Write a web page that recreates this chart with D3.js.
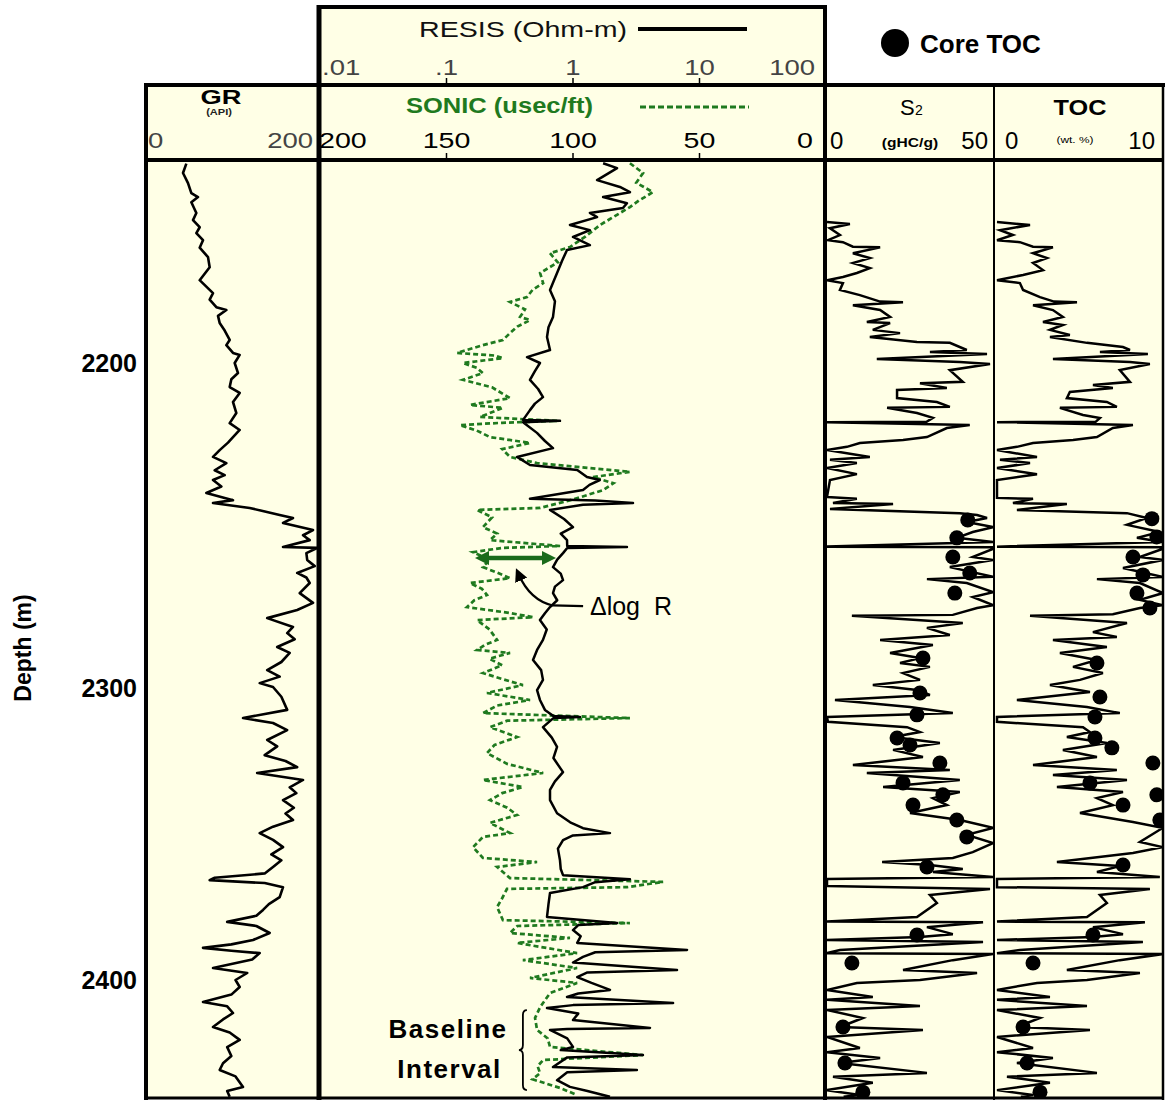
<!DOCTYPE html>
<html><head><meta charset="utf-8">
<script src="https://cdn.jsdelivr.net/npm/d3@7"></script>
<style>body{margin:0;background:#fff}svg{display:block}</style>
</head><body>
<svg id="c" width="1165" height="1101"></svg>
<script>
// ---------------- DATA ----------------
const depthTicks = [2200, 2300, 2400];
const resisTicks = [0.01, 0.1, 1, 10, 100];
const resisTickLabels = [".01", ".1", "1", "10", "100"];
const sonicTicks = [200, 150, 100, 50, 0];
const grTicks = [0, 200];
const s2Ticks = [0, 50];
const tocTicks = [0, 10];

// GR (API) : [depth m, value]
const grLog = [[2138.6,46],[2141.5,42],[2144.6,48],[2147.7,52],[2148.9,60],[2150.5,52],[2153.8,58],[2156,54],[2158.2,62],[2160,58],[2162.2,66],[2164.5,62],[2167.4,72],[2170.5,74],[2172.5,68],[2174.5,62],[2176.5,70],[2178.5,78],[2180.5,74],[2182.8,82],[2183.7,94],[2185.5,84],[2187.7,86],[2190,92],[2192.9,98],[2194.5,94],[2196.9,102],[2197.5,110],[2200,104],[2203.1,108],[2205,100],[2207.4,98],[2209.2,110],[2212,102],[2215.4,106],[2218.5,98],[2220.6,110],[2222.8,102],[2224.5,96],[2226.8,86],[2228.9,78],[2230.8,94],[2233,80],[2234.5,92],[2236,78],[2238,88],[2240,70],[2242.2,102],[2243.1,78],[2244.6,122],[2246.8,158],[2247.7,174],[2249.2,162],[2251.4,198],[2253,186],[2254.5,194],[2256.6,162],[2256.9,203],[2258.5,190],[2260.6,191],[2262.5,200],[2264.6,179],[2266,190],[2267.7,194],[2270.8,182],[2273.8,198],[2276,179],[2278.5,143],[2281.2,174],[2283.1,167],[2285,176],[2287.4,155],[2289.2,170],[2292,160],[2294.5,143],[2296.5,158],[2298.5,134],[2299.7,150],[2303,160],[2307.5,167],[2310.3,114],[2312,150],[2314.4,167],[2317.8,143],[2320,155],[2323,140],[2325,165],[2327.1,179],[2329.1,131],[2331.5,186],[2334,170],[2336,178],[2338.4,162],[2341,175],[2343,165],[2345.2,174],[2347.5,150],[2349.7,134],[2352,150],[2354.5,162],[2357,148],[2359,160],[2361.3,150],[2363.5,140],[2365,80],[2365.8,74],[2366.8,140],[2368.2,162],[2371.6,158],[2374,145],[2376,138],[2378,130],[2380.1,95],[2381.5,130],[2383.9,146],[2386.3,126],[2387.8,100],[2389,66],[2390,100],[2390.8,134],[2393,125],[2395.9,78],[2397.6,119],[2400,105],[2402.4,110],[2405,100],[2407.5,66],[2409,95],[2411.3,102],[2413.5,90],[2416.1,78],[2418,98],[2420.5,110],[2423,95],[2426,100],[2428.5,90],[2430.8,86],[2433,105],[2436.6,114],[2438,95],[2440,98]];

// Resistivity (Ohm-m) : [depth, value]
const resisLog = [[2138.5,1.73],[2140,2.23],[2143.7,1.55],[2145.8,2.35],[2147.4,2.82],[2148.9,1.73],[2150.8,2.67],[2152.3,2.48],[2153.8,1.36],[2155.1,1.55],[2157.5,0.946],[2159.1,1.36],[2161.2,1.0],[2163.7,1.36],[2165.2,0.897],[2168.5,0.82],[2172.3,0.748],[2175,0.70],[2177.5,0.658],[2181,0.72],[2185.8,0.695],[2189,0.64],[2192,0.623],[2196,0.658],[2198.2,0.433],[2200,0.548],[2202.5,0.50],[2205.2,0.457],[2208,0.53],[2210.5,0.579],[2212.5,0.50],[2214.5,0.457],[2217.5,0.403],[2217.8,0.789],[2218.2,0.403],[2221.5,0.519],[2224,0.60],[2226.2,0.695],[2228.9,0.361],[2231.4,0.457],[2232.9,1.08],[2235.1,1.29],[2236,1.63],[2237.5,1.35],[2239.1,1.20],[2241.8,0.457],[2242.3,1.5],[2243.1,2.98],[2243.6,1.2],[2245.2,0.658],[2248,0.85],[2250.5,1.0],[2252.5,0.8],[2254.5,0.897],[2256.3,0.9],[2256.6,2.67],[2256.9,0.9],[2258.5,0.834],[2260.5,0.75],[2262.8,0.695],[2264.8,0.80],[2266.8,0.834],[2268.8,0.72],[2270.8,0.695],[2273,0.75],[2275.1,0.658],[2277,0.60],[2279.1,0.548],[2282,0.62],[2285.2,0.579],[2288.3,0.52],[2291.4,0.483],[2294.5,0.56],[2297.5,0.579],[2300.7,0.52],[2304.1,0.548],[2307.5,0.60],[2309.6,0.70],[2309.9,1.135],[2310.3,0.70],[2313.4,0.579],[2317,0.68],[2320.2,0.748],[2324,0.70],[2328.8,0.834],[2332,0.72],[2334.9,0.658],[2338.4,0.658],[2342.9,0.748],[2346,0.95],[2348,1.20],[2349.7,1.96],[2350.5,1.0],[2352.1,0.834],[2355,0.76],[2359,0.789],[2362,0.80],[2364.1,0.834],[2365.5,2.82],[2366.5,1.5],[2368.2,1.20],[2370.2,0.658],[2374,0.64],[2378.4,0.623],[2380.5,2.23],[2381.2,1.1],[2382.9,1.0],[2385,1.15],[2387.3,1.08],[2389.7,7.97],[2390.5,1.5],[2392.1,1.20],[2394,1.0],[2396.6,6.64],[2397.4,1.3],[2399,1.08],[2401,1.4],[2403.4,1.96],[2404.6,1.1],[2405.8,0.897],[2407.9,6.18],[2408.6,1.0],[2409.6,0.623],[2411.5,1.1],[2413.7,1.0],[2416.4,4.06],[2416.8,0.9],[2417.1,0.658],[2420,0.9],[2422.9,1.0],[2424,0.8],[2425.7,3.57],[2426.5,0.9],[2429.8,0.695],[2430.8,3.2],[2431.6,0.9],[2434.3,0.748],[2436.6,0.946],[2438,1.3],[2440,1.96]];

// Sonic (usec/ft) : [depth, value]
const sonicLog = [[2138.5,77.5],[2141.5,72.3],[2144.5,75],[2147.4,68.4],[2150,74],[2152,77.5],[2157.5,89.3],[2161,95],[2164.3,101.2],[2166.2,109.1],[2169,106],[2172.3,113],[2175.4,111.8],[2177.5,116],[2179.7,118.2],[2181.2,124.9],[2183.5,119],[2185.8,120.9],[2186.8,117],[2188.8,122],[2190.8,124.9],[2192.9,127.7],[2194.5,135.6],[2196.9,145.8],[2197.7,131],[2198.5,127.7],[2200,143.5],[2201.5,138],[2203.1,135.6],[2205.2,143.5],[2207.5,132],[2210.8,124.9],[2212.9,140.7],[2213.8,127.7],[2216.6,136.8],[2217.8,106.3],[2218.4,128],[2219.1,144.7],[2220.8,138],[2222.8,132.8],[2224.6,117],[2226.5,128],[2228.9,124.9],[2230.8,114.2],[2233.5,77.5],[2235.1,92.1],[2237,84],[2239.1,88.1],[2242,100],[2244.6,113],[2245.2,137.9],[2247.5,132],[2250.5,135.6],[2252.5,130],[2254.5,132.8],[2256.3,105.1],[2256.9,128],[2258.2,139.5],[2260.5,133],[2262.8,135.6],[2264.5,130],[2266.2,124.9],[2267.7,140.7],[2269.5,136],[2271.4,134],[2273,139],[2275.1,141.9],[2276.8,126],[2278.2,115.8],[2279.1,137.9],[2282,133],[2285.2,130],[2286.8,135],[2288.3,137.9],[2289.2,124.9],[2291,133],[2293,128],[2295.4,135.6],[2297,129],[2299.1,119.8],[2301.7,134],[2304.1,117],[2306,130],[2308.6,135.6],[2310.3,77.5],[2311.2,126],[2313.4,132.8],[2316.8,122.1],[2319.5,131],[2322.3,134],[2326,126],[2329.1,111.8],[2331.5,135.6],[2333.9,119.8],[2336,128],[2338.4,132.8],[2341,126],[2343.5,122.1],[2346.2,132.8],[2349.7,124.9],[2351,135.6],[2354.5,139.5],[2358.2,135.6],[2359.6,114.2],[2361.3,130],[2365.1,124.9],[2366.4,64.4],[2368.2,78.6],[2368.8,126.1],[2372,128],[2375,130],[2379.5,127.7],[2380.5,77.5],[2381.5,122],[2383.9,124.9],[2385.6,101.2],[2387.3,122.1],[2390.8,98.4],[2393.2,119.8],[2395.9,98.4],[2399.3,117],[2401,98.4],[2404.5,109.1],[2409.3,113],[2413,115],[2417.1,114.2],[2420,110],[2422.9,109.1],[2425.7,72.3],[2427.4,111.8],[2429.5,114],[2431.9,113],[2434,116],[2437,105],[2439.4,98.4]];

// S2 (gHC/g) : [depth, value]
const s2Log = [[2156.6,0],[2157.2,6.9],[2158.5,0.9],[2160.6,3.9],[2162.2,0.3],[2162.8,4.8],[2164.2,7.8],[2164.4,16],[2166.2,7.8],[2167.7,12.9],[2169.2,7.8],[2170.8,12.9],[2172.3,9],[2173.5,4.8],[2174.5,0],[2175.4,4.8],[2177.5,3.9],[2179.1,9.9],[2181.1,16],[2181.3,22.9],[2182.2,7.8],[2183.7,16],[2185.8,19],[2187.4,12],[2187.7,19],[2189.8,13.8],[2190.8,22],[2192,12.9],[2193.5,27.1],[2193.8,37],[2196,42.1],[2196.6,31],[2197.2,48.2],[2198.8,15],[2199.7,40],[2200.3,49.1],[2202.2,37],[2205.8,40.9],[2206.2,28],[2207.7,36.1],[2208.3,21.1],[2210.8,21.1],[2212,33.1],[2213.5,37],[2213.8,18.1],[2215.4,27.1],[2216.9,31.9],[2218.1,30],[2218.2,0],[2219.1,43],[2220,36.1],[2222.8,30.1],[2223.7,22.9],[2224.6,9.9],[2225.8,6],[2226.8,0],[2228.9,12.9],[2229.8,0.9],[2230.8,9],[2232.3,0],[2234.2,9],[2236,0.9],[2241.2,0],[2241.8,9],[2243.1,1.8],[2243.4,19.9],[2244.9,0.9],[2246.2,40],[2246.8,45.2],[2247.7,48.2],[2248.9,42.1],[2250.5,50],[2252,43.9],[2253.8,39.1],[2255.1,50],[2256.5,0],[2256.7,50],[2257.2,50],[2259.7,43.9],[2260.6,50],[2262.8,37],[2265.8,50],[2266.5,30.1],[2267.7,42.1],[2270.5,50],[2272,43.9],[2274.5,50],[2275.4,45.2],[2277.5,37.9],[2277.8,7.5],[2280,40.9],[2281.5,30.1],[2283.7,37],[2285.2,16],[2286.8,31.9],[2289.2,19],[2290.8,28],[2292.3,22],[2293.5,31],[2295.4,22.9],[2297.5,28],[2299.1,13.8],[2300.7,27.1],[2302.4,31],[2304.1,2.4],[2306.5,25],[2308.6,37.9],[2309.9,0],[2311.6,0.3],[2313.4,24.1],[2315.1,28],[2316.8,19.9],[2318.8,34],[2321.2,19.9],[2323.6,28.9],[2326.4,7.8],[2328.1,37],[2329.1,12],[2331.5,40],[2333.9,16.9],[2335.6,40],[2337.7,31.9],[2340.1,36.1],[2342.8,25],[2345.2,40],[2347.9,50],[2350.3,42.1],[2353.1,50],[2356.2,43.9],[2358.2,37.9],[2359.6,16.6],[2360.6,31],[2362,40.9],[2363,31.9],[2364.7,50],[2365.4,0],[2367.8,0],[2368.8,49.1],[2370.9,31],[2373.6,33.1],[2378.4,27.1],[2380,0],[2380.2,47],[2381.9,30.1],[2384.3,37.9],[2385.3,28],[2386.3,0],[2387,47],[2389.7,3.9],[2390.8,0],[2391.1,50],[2393.2,37.9],[2396.6,22.9],[2397.6,45.2],[2400,28],[2401,9],[2403.4,0],[2405.8,13.8],[2406.8,0],[2408.9,28],[2410.3,0],[2413,10.8],[2416.1,3.9],[2417.1,28.9],[2419.5,0],[2423.3,9.9],[2424.7,0],[2426.7,16],[2428.4,3.9],[2431.8,30.1],[2433.1,1.8],[2435.2,13.8],[2437.7,0],[2439.4,9.9],[2440,5]];

// TOC (wt. %) : [depth, value]
const tocLog = [[2156.6,0.06],[2157.5,2.05],[2159.1,0.24],[2160.6,1.02],[2162.2,0.06],[2162.8,1.44],[2164.2,2.23],[2164.4,3.43],[2166.2,2.23],[2167.7,3.07],[2169.2,2.23],[2171.4,2.83],[2172.9,1.63],[2174.5,0.06],[2175.4,1.44],[2177.5,1.63],[2179.7,2.65],[2181.1,3.5],[2181.3,4.88],[2182.2,2.23],[2183.7,3.43],[2185.8,4.03],[2187.4,2.83],[2188.3,4.03],[2189.8,3.25],[2191.4,4.45],[2192,3.25],[2193.8,5.48],[2195.1,7.65],[2196,8.07],[2196.6,6.26],[2197.2,9.15],[2198.8,3.43],[2199.7,8.07],[2200.3,9.27],[2202.2,7.46],[2205.8,8.07],[2206.8,5.84],[2207.7,7.04],[2208.9,4.45],[2210.8,4.27],[2212,6.68],[2213.5,7.28],[2213.8,3.85],[2216,5.24],[2216.9,6.26],[2218.1,6],[2218.2,0.06],[2219.1,8.25],[2220,7.04],[2222.8,6.08],[2223.7,4.64],[2224.6,2.23],[2225.8,1.26],[2226.8,0.06],[2228.9,2.47],[2229.8,0.24],[2230.8,2.05],[2232.3,0.06],[2234.2,2.47],[2236,0.06],[2241.5,0.06],[2241.8,2.23],[2243.1,1.02],[2243.4,4.27],[2245.2,1.26],[2246.2,7.89],[2247.7,9.09],[2249.8,7.89],[2252,9.87],[2253.8,8.49],[2255.1,10.05],[2256.5,0.06],[2256.7,10.05],[2257.2,10.05],[2259.7,8.67],[2260.6,10.05],[2263.1,7.65],[2265.8,10.05],[2266.5,6.08],[2267.7,8.67],[2270.8,10.05],[2272.9,8.67],[2274.5,10.05],[2275.4,8.67],[2277.3,7.04],[2277.8,2.05],[2280,7.89],[2282.8,5.84],[2284.3,7.28],[2285.2,3.43],[2287.4,6.68],[2289.2,3.85],[2291.4,6.08],[2293.5,4.64],[2295.4,6.44],[2297.5,5.06],[2299.1,3.25],[2301.4,5.66],[2304.1,1.26],[2306.5,5.48],[2308.6,7.46],[2309.9,0.06],[2311.6,0.06],[2313.4,5.24],[2315.1,5.66],[2316.8,4.27],[2318.8,6.68],[2321.2,4.03],[2323.6,6.08],[2326.4,2.23],[2328.1,7.28],[2329.8,3.43],[2331.5,7.89],[2333.9,3.67],[2335.6,7.65],[2337.7,6.08],[2340.1,7.04],[2342.8,5.06],[2345.9,8.25],[2347.9,10.05],[2352.7,8.67],[2354.5,10.05],[2356.5,8.25],[2359.6,3.67],[2361,7.46],[2363,6.08],[2364.7,9.87],[2365.4,0.06],[2368.2,0.06],[2368.8,9.27],[2370.9,6.26],[2373.6,6.68],[2378.4,5.48],[2380,0.06],[2380.2,8.97],[2381.9,5.84],[2384.3,7.65],[2385.3,5.84],[2386.3,0.06],[2387,8.85],[2389.7,1.44],[2390.8,0.06],[2391.1,10.05],[2393.2,7.46],[2396.6,4.27],[2397.6,8.67],[2400,5.48],[2401,2.47],[2403.4,0.06],[2405.8,3.25],[2406.8,0.06],[2408.9,5.48],[2410.3,0.06],[2413,2.65],[2416.1,1.26],[2417.1,5.66],[2419.5,0.06],[2423.3,2.23],[2424.7,0.06],[2426.7,3.43],[2428.4,1.26],[2431.8,6.08],[2433.1,0.66],[2435.2,3.25],[2437.7,0.06],[2439.4,2.23],[2440,1.5]];

// Core measurements
const coreS2Depth = [2248.3,2253.8,2259.7,2264.6,2270.8,2290.8,2301.7,2309.2,2317.1,2319.5,2325.7,2332.5,2336.6,2340.1,2345.2,2351,2361.3,2384.6,2394.2,2416.1,2428.4,2438.4];
const coreS2 = [42.4,39.1,37.9,43,38.5,28.9,28,27.1,21.1,25,34,22.9,34.9,25.9,39.1,42.1,30.1,27.1,7.5,4.8,5.4,10.8];
const coreTocDepth = [2247.9,2253.5,2259.7,2265.2,2270.8,2275.4,2292.3,2303.1,2309.9,2317.1,2320.5,2325.7,2332.5,2336.6,2340.1,2345.2,2360.6,2384.6,2394.2,2416.1,2428.4,2438.4];
const coreToc = [9.39,9.69,8.25,8.85,8.49,9.27,6.08,6.26,5.96,5.96,6.98,9.45,5.66,9.69,7.65,9.87,7.65,5.84,2.23,1.63,1.87,2.65];

// ---------------- LAYOUT ----------------
const F = '"Liberation Sans", Arial, Helvetica, sans-serif';
const CREAM = '#FFFFE6';
const GREEN = '#1f7a1f';
const L = {grL:146, grR:319, midR:825, s2R:994, tocR:1163, top:160, bot:1098, hdr:85, resTop:7};

const svg = d3.select('#c');
const defs = svg.append('defs');

const yD = d3.scaleLinear().domain([2137.5,2200,2300,2400,2440.4]).range([160,363,688,980,1098]);
const xGR = d3.scaleLinear().domain([0,200]).range([148,314.7]);
const xRes = d3.scaleLog().domain([0.01,100]).range([320,826]);
const xSon = d3.scaleLinear().domain([200,0]).range([320,826]);
const xS2 = d3.scaleLinear().domain([0,50]).range([827,993]);
const xToc = d3.scaleLinear().domain([0,10]).range([996,1162]);

// backgrounds
svg.append('rect').attr('x',L.grL).attr('y',L.hdr).attr('width',L.grR-L.grL).attr('height',L.bot-L.hdr).attr('fill',CREAM);
svg.append('rect').attr('x',L.grR).attr('y',L.resTop).attr('width',L.midR-L.grR).attr('height',L.bot-L.resTop).attr('fill',CREAM);
svg.append('rect').attr('x',L.midR).attr('y',L.hdr).attr('width',L.tocR-L.midR).attr('height',L.bot-L.hdr).attr('fill',CREAM);

// clip paths
function clip(id,x0,x1){
  defs.append('clipPath').attr('id',id).append('rect').attr('x',x0).attr('y',L.top).attr('width',x1-x0).attr('height',L.bot-L.top);
}
clip('cGR',L.grL+2,L.grR-2); clip('cMid',L.grR+2,L.midR-1); clip('cS2',L.midR+2,L.s2R-1); clip('cToc',L.s2R+1,L.tocR-1);

// curves
const lineOf = (xs) => d3.line().x(d=>xs(d[1])).y(d=>yD(d[0]));
svg.append('g').attr('clip-path','url(#cGR)').append('path').datum(grLog)
  .attr('d',lineOf(xGR)).attr('fill','none').attr('stroke','#000').attr('stroke-width',2.6).attr('stroke-linejoin','round');
const mid = svg.append('g').attr('clip-path','url(#cMid)');
mid.append('path').datum(sonicLog).attr('d',lineOf(xSon)).attr('fill','none').attr('stroke',GREEN)
  .attr('stroke-width',2.7).attr('stroke-dasharray','5,3');
mid.append('path').datum(resisLog).attr('d',lineOf(xRes)).attr('fill','none').attr('stroke','#000')
  .attr('stroke-width',2.5).attr('stroke-linejoin','round');
const gS2 = svg.append('g').attr('clip-path','url(#cS2)');
gS2.append('path').datum(s2Log).attr('d',lineOf(xS2)).attr('fill','none').attr('stroke','#000').attr('stroke-width',2.5);
gS2.selectAll('circle').data(coreS2Depth).join('circle')
  .attr('cx',(d,i)=>xS2(coreS2[i])).attr('cy',d=>yD(d)).attr('r',7.5).attr('fill','#000');
const gToc = svg.append('g').attr('clip-path','url(#cToc)');
gToc.append('path').datum(tocLog).attr('d',lineOf(xToc)).attr('fill','none').attr('stroke','#000').attr('stroke-width',2.5);
gToc.selectAll('circle').data(coreTocDepth).join('circle')
  .attr('cx',(d,i)=>xToc(coreToc[i])).attr('cy',d=>yD(d)).attr('r',7.5).attr('fill','#000');

// frame lines
function ln(x1,y1,x2,y2,w,c){
  return svg.append('line').attr('x1',x1).attr('y1',y1).attr('x2',x2).attr('y2',y2).attr('stroke',c||'#000').attr('stroke-width',w);
}
ln(L.grL-2,L.hdr,1165,L.hdr,4);
ln(L.grL-2,L.top,L.tocR+1,L.top,4);
ln(L.grR-2,L.resTop,L.midR+2,L.resTop,4);
ln(L.grL,L.hdr-2,L.grL,L.bot+2,4);
ln(L.grR,L.resTop-2,L.grR,L.bot+2,5);
ln(L.midR,L.resTop-2,L.midR,L.bot+2,4);
ln(L.s2R,L.hdr,L.s2R,L.bot+2,2);
ln(L.tocR,L.hdr,L.tocR,L.bot+2,2.5);
ln(L.grL-2,L.bot,L.tocR+1,L.bot,3);

// tick marks
[0.1,1,10].forEach(v=>{ ln(xRes(v),L.hdr-2,xRes(v),L.hdr-7,1.5); });
[150,100,50].forEach(v=>{ ln(xSon(v),L.top-2,xSon(v),L.top-7,1.5); });

// text helper
function label(text,x,y,o){
  o=o||{};
  return svg.append('text').attr('transform',`translate(${x},${y}) scale(${o.sx||1},1)`)
    .attr('text-anchor',o.anchor||'start').attr('font-family',F).attr('font-size',o.size||20)
    .attr('font-weight',o.weight||'normal').attr('fill',o.fill||'#000').text(text);
}

// RESIS header
label('RESIS (Ohm-m)',419,37,{size:22,sx:1.3,fill:'#111'});
ln(638,29,747,29,4);
resisTicks.forEach((v,i)=>{
  let anchor='middle', x=xRes(v);
  if(i===0){anchor='start'; x=322;}
  if(i===resisTicks.length-1){anchor='end'; x=815;}
  label(resisTickLabels[i],x,75,{size:22,sx:1.25,fill:'#444',anchor});
});

// GR header
label('GR',221,104,{size:21,weight:'bold',sx:1.3,anchor:'middle'});
label('(API)',219,115,{size:8.5,weight:'bold',sx:1.3,anchor:'middle',fill:'#222'});
label(String(grTicks[0]),148,148,{size:22,sx:1.25,fill:'#444'});
label(String(grTicks[1]),313,148,{size:22,sx:1.25,fill:'#444',anchor:'end'});

// SONIC header
label('SONIC (usec/ft)',406,113,{size:22,weight:'bold',sx:1.16,fill:GREEN});
ln(640,107,749,107,3,GREEN).attr('stroke-dasharray','6,3');
sonicTicks.forEach((v,i)=>{
  let anchor='middle', x=xSon(v);
  if(i===0){anchor='start'; x=319;}
  if(i===sonicTicks.length-1){anchor='end'; x=813;}
  label(String(v),x,148,{size:22,sx:1.3,anchor});
});

// S2 header
label('S',900,115,{size:22});
label('2',915,115,{size:14});
label(String(s2Ticks[0]),830,149,{size:24});
label('(gHC/g)',910,147,{size:12,weight:'bold',sx:1.3,anchor:'middle'});
label(String(s2Ticks[1]),988,149,{size:24,anchor:'end'});

// TOC header
label('TOC',1080,115,{size:22,weight:'bold',sx:1.15,anchor:'middle'});
label(String(tocTicks[0]),1005,149,{size:24});
label('(wt. %)',1075,143,{size:8.5,sx:1.4,anchor:'middle'});
label(String(tocTicks[1]),1155,149,{size:24,anchor:'end'});

// Legend
svg.append('circle').attr('cx',895).attr('cy',43).attr('r',14).attr('fill','#000');
label('Core TOC',920,53,{size:26,weight:'bold'});

// Depth axis
depthTicks.forEach(d=>label(String(d),137,yD(d)+9,{size:25,weight:'bold',anchor:'end'}));
svg.append('text').attr('transform',`translate(31,648) rotate(-90)`).attr('text-anchor','middle')
  .attr('font-family',F).attr('font-size',23).attr('font-weight','bold').text('Depth (m)');

// Annotations
defs.append('marker').attr('id','ag').attr('viewBox','0 0 10 10').attr('refX',6).attr('refY',5)
  .attr('markerWidth',3.2).attr('markerHeight',3.2).attr('orient','auto-start-reverse')
  .append('path').attr('d','M0,0 L10,5 L0,10 z').attr('fill','#1a6b1a');
defs.append('marker').attr('id','ab').attr('viewBox','0 0 10 10').attr('refX',5).attr('refY',5)
  .attr('markerWidth',6).attr('markerHeight',6).attr('orient','auto')
  .append('path').attr('d','M0,0 L10,5 L0,10 z').attr('fill','#000');

const ay = yD(2260);
svg.append('line').attr('x1',xSon(136.5)).attr('y1',ay).attr('x2',xSon(109)).attr('y2',ay)
  .attr('stroke','#1a6b1a').attr('stroke-width',4.5)
  .attr('marker-start','url(#ag)').attr('marker-end','url(#ag)');

const p0=[xSon(96),yD(2274.8)], p1=[xSon(108),yD(2274.6)], pc=[xSon(117),yD(2273)], p2=[xSon(121.5),yD(2265)];
svg.append('path').attr('d',`M${p0} L${p1} Q${pc} ${p2}`).attr('fill','none').attr('stroke','#000')
  .attr('stroke-width',2.2).attr('marker-end','url(#ab)');
label('\u0394log\u00A0\u00A0R',xSon(93.3),yD(2277.6),{size:25});

label('Baseline',xSon(149.4),yD(2419.9),{size:26,weight:'bold',anchor:'middle'}).attr('letter-spacing',1.5);
label('Interval',xSon(148.8),yD(2433.6),{size:26,weight:'bold',anchor:'middle'}).attr('letter-spacing',1.5);
const bx = xSon(119.8), bt = yD(2410.3), bb = yD(2437.7), bm = yD(2424);
svg.append('path').attr('d',`M${bx+4},${bt} Q${bx},${bt} ${bx},${bt+5} L${bx},${bm-5} Q${bx},${bm} ${bx-4},${bm} Q${bx},${bm} ${bx},${bm+5} L${bx},${bb-5} Q${bx},${bb} ${bx+4},${bb}`)
  .attr('fill','none').attr('stroke','#000').attr('stroke-width',1.8);
</script>
</body></html>
